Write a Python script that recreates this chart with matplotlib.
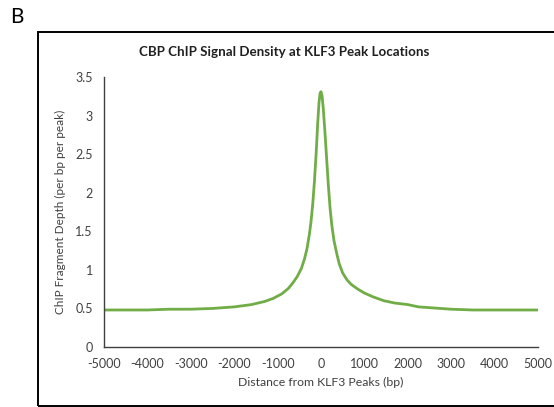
import matplotlib
matplotlib.use('Agg')
import matplotlib.pyplot as plt
from matplotlib.patches import Rectangle

plt.rcParams['font.family'] = ['Lato', 'DejaVu Sans']

# Distance from KLF3 peak (bp) and ChIP signal density
distance = [-5000, -4500, -4000, -3500, -3000, -2500, -2000, -1600, -1300, -1100,
            -900, -750, -650, -550, -450, -380, -320, -270, -230, -190,
            -150, -110, -75, -45, -20, 0, 25, 55, 90, 130,
            170, 210, 250, 300, 360, 420, 500, 600, 700, 850,
            1000, 1200, 1450, 1700, 2000, 2250, 2500, 3000, 3500, 4000,
            4500, 5000]
density = [0.48, 0.48, 0.48, 0.49, 0.49, 0.50, 0.52, 0.55, 0.59, 0.63,
           0.69, 0.76, 0.83, 0.91, 1.02, 1.14, 1.28, 1.45, 1.62, 1.85,
           2.15, 2.52, 2.90, 3.17, 3.29, 3.31, 3.26, 3.08, 2.80, 2.45,
           2.10, 1.80, 1.58, 1.38, 1.22, 1.08, 0.96, 0.87, 0.81, 0.75,
           0.70, 0.65, 0.60, 0.57, 0.55, 0.52, 0.51, 0.49, 0.48, 0.48,
           0.48, 0.48]

x_ticks = [-5000, -4000, -3000, -2000, -1000, 0, 1000, 2000, 3000, 4000, 5000]
y_ticks = [0, 0.5, 1, 1.5, 2, 2.5, 3, 3.5]
y_labels = ['0', '0.5', '1', '1.5', '2', '2.5', '3', '3.5']

fig = plt.figure(figsize=(5.54, 4.07), dpi=100)
ax = fig.add_axes([0.1877, 0.1474, 0.7833, 0.6634])

# Outer frame of the chart area (runs off the right edge)
fig.patches.append(Rectangle((38 / 554, 1 - 406 / 407), 1.0, (406 - 32) / 407,
                             transform=fig.transFigure, fill=False,
                             edgecolor='black', linewidth=1.4))

fig.text(10 / 554, 1 - 17 / 407, 'B', fontsize=15, va='center', ha='left')

ax.plot(distance, density, color='#70AD47', linewidth=2.0, solid_capstyle='round')

ax.set_xlim(-5000, 5000)
ax.set_ylim(0, 3.5)
ax.set_xticks(x_ticks)
ax.set_xticklabels([str(t) for t in x_ticks])
ax.set_yticks(y_ticks)
ax.set_yticklabels(y_labels)
ax.tick_params(length=0, labelsize=9, colors='#404040', pad=8)

for side in ['top', 'right']:
    ax.spines[side].set_visible(False)
for side in ['left', 'bottom']:
    ax.spines[side].set_color('#404040')
    ax.spines[side].set_linewidth(1.0)

ax.set_xlabel('Distance from KLF3 Peaks (bp)', fontsize=8.8, color='#404040', labelpad=5)
ax.set_ylabel('ChIP Fragment Depth (per bp per peak)', fontsize=8.5, color='#404040', labelpad=7)
fig.text(284 / 554, 1 - 52 / 407, 'CBP ChIP Signal Density at KLF3 Peak Locations',
         fontsize=9.6, fontweight='bold', ha='center', va='center', color='#202020')

plt.savefig('out.png', dpi=100)
